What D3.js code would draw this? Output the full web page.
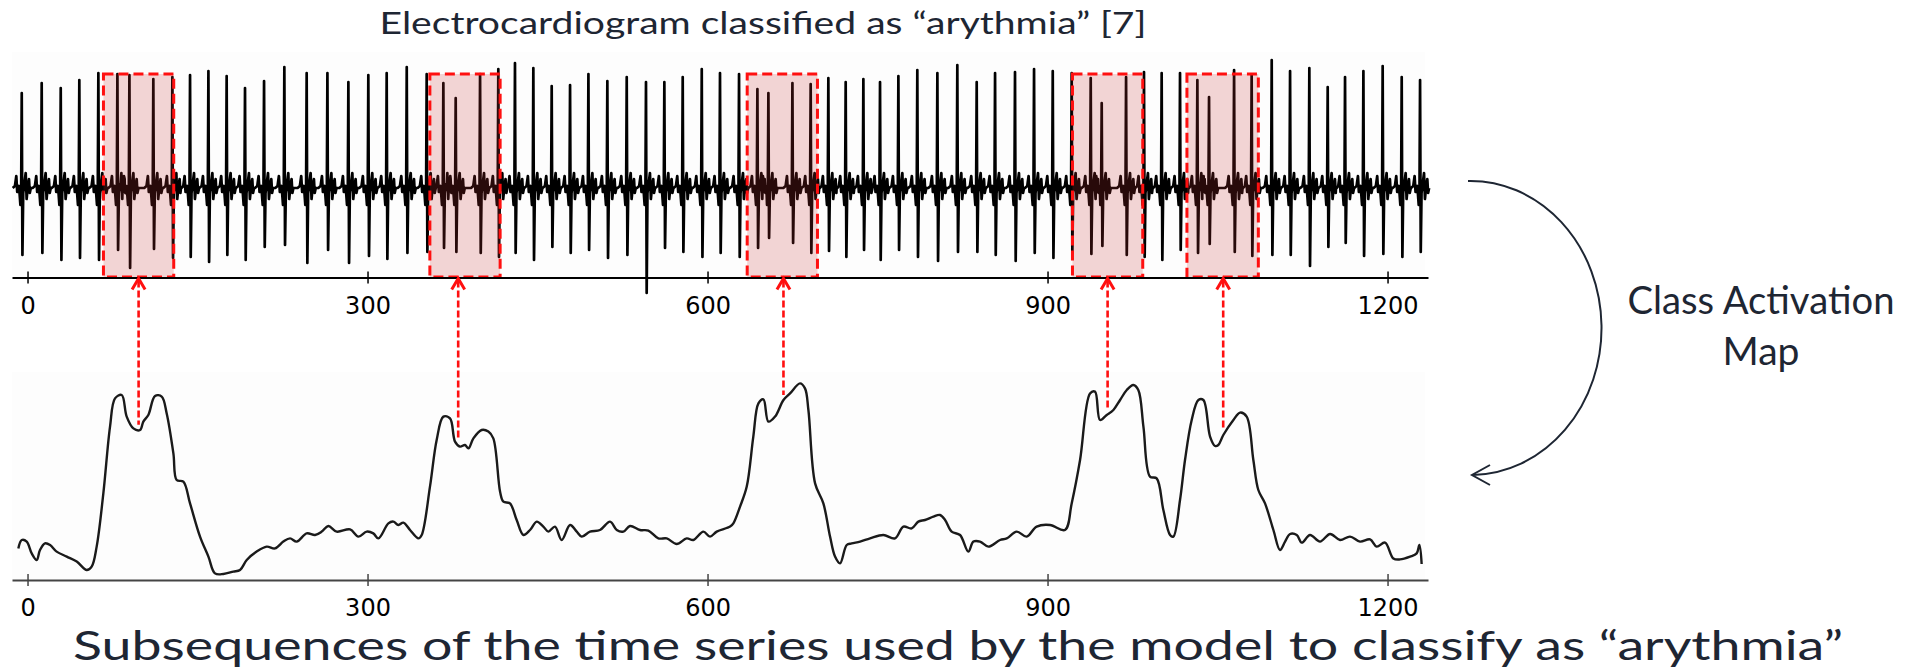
<!DOCTYPE html>
<html>
<head>
<meta charset="utf-8">
<script src="https://cdn.jsdelivr.net/npm/d3@7"></script>
<style>
  body { margin: 0; background: #ffffff; }
  svg { display: block; }
</style>
</head>
<body>
<svg id="chart" width="1924" height="668"></svg>
<script>
// ECG beats: time of each QRS complex, R-peak height and S-trough depth
const beatTime = [-5.1,12.5,29.3,45.7,62.5,79.3,89.9,111,127.8,143.4,159.6,175.7,191.9,208.7,226.6,246.3,264.6,283.1,300.7,316.9,334.6,352.2,366.9,377.8,399.3,415.4,
  430.1,446.3,462.5,478.7,494.9,511.6,528.7,545.7,561.9,578.1,594.9,611,627.8,644,653.7,674.9,691,706.6,721.9,737.5,752.2,768.4,785.1,802.8,820.4,837.5,853.7,
  871.3,888.1,904.6,921.3,938.1,947.8,969.3,985.1,1000.7,1016.9,1032.2,1042.5,1064.6,1080.1,1097.8,1114,1131,1147.2,1162.5,1178.7,1195.7,1212.5,1228.7];
const beatPeak = [0.95,1.05,1.0,1.08,1.15,1.14,1.13,1.09,1.11,1.13,1.17,1.12,1.0,1.07,1.21,1.15,1.15,1.06,1.13,1.15,1.21,1.14,1.05,0.9,1.14,1.19,
  1.25,1.2,1.02,1.03,1.14,1.07,1.11,1.06,1.06,1.11,1.19,1.15,1.14,0.99,0.95,1.05,1.04,1.1,1.06,1.09,1.06,1.12,1.18,1.15,1.23,1.06,1.15,
  1.16,1.19,1.17,1.15,1.1,0.85,1.11,1.16,1.15,1.15,1.08,0.91,1.18,1.13,1.28,1.17,1.2,1.01,1.11,1.17,1.22,1.11,1.08];
const beatTrough = [-0.67,-0.65,-0.72,-0.7,-0.72,-0.62,-0.8,-0.61,-0.7,-0.69,-0.74,-0.67,-0.72,-0.59,-0.57,-0.75,-0.62,-0.75,-0.68,-0.71,-0.65,-0.64,-0.6,-0.64,-0.65,-0.69,
  -0.65,-0.72,-0.59,-0.65,-0.62,-0.7,-0.67,-1.05,-0.6,-0.64,-0.69,-0.65,-0.69,-0.6,-0.5,-0.55,-0.65,-0.63,-0.69,-0.62,-0.72,-0.62,-0.69,-0.73,-0.64,-0.64,-0.67,
  -0.73,-0.65,-0.7,-0.65,-0.66,-0.58,-0.67,-0.69,-0.72,-0.62,-0.65,-0.56,-0.64,-0.68,-0.67,-0.67,-0.78,-0.59,-0.55,-0.68,-0.66,-0.69,-0.64];

// P and T wave ripple around each complex: [time offset, amplitude]
const rippleBefore = [[-8,0],[-6,0.02],[-4.8,0.12],[-4,-0.04],[-2.4,0.02],[-1.2,-0.17],[-0.5,0]];
const rippleAfter = [[1.3,-0.05],[2.3,0.04],[3.5,0.15],[4.3,-0.11],[5.4,0.02],[6.4,0.09],[7.1,-0.05],[8,0]];

// Class activation map over the same time axis
const camTime = [-8.1,-5.1,-0.7,3.7,8.1,11,15.4,19.9,25.7,34.6,43.4,52.2,56.6,61,66.9,72.8,77.2,83.1,87.5,93.4,99.3,102.2,106.6,112.5,118.4,122.8,128.7,131.6,137.5,143.4,
  152.2,159.6,165.4,172.8,181.6,187.5,193.4,202.2,211,218.4,225.7,231.6,237.5,246.3,253.7,259.6,265.4,272.8,284.6,291.9,299.3,305.1,309.6,318.4,322.8,327.2,331.6,337.5,344.9,347.8,
  355.1,361,366.9,372.8,377.2,381.6,386,389,393.4,400.7,406.6,411,417,
  419.9,425.7,431.6,437.5,443.4,449.3,455.1,459.6,465.4,471.3,478.7,484.6,489,496.3,505.1,514,519.9,525.7,531.6,540.4,547.8,556.6,564,572.8,581.6,587.5,596.3,602.2,608.1,619.9,
  622.8,628.7,634.6,640.4,644.9,649.3,653.7,659.6,667,672.8,681.6,686,689,694.9,702.2,708.1,712.5,716.9,722.8,727.2,734.6,743.4,755.1,765.4,772.8,780.1,786,791.9,799.3,805.1,
  809.6,815.4,822.8,830.1,834.6,840.4,847.8,858.1,
  864,872.8,881.6,890.4,902.2,915.4,921.3,928.7,937.5,941.9,946.3,952.2,958.1,964,969.9,975.7,980.1,984.6,990.4,996.3,1002.2,1008.1,1011,1016.9,1021.3,1027.2,1033.1,1037.5,1043.4,1047.8,
  1050.7,1055.1,1064,1069.9,1075.7,1081.6,1086,1091.9,1099.3,1105.1,1109.6,1114,1119.9,1124.3,1131.6,1140.4,1149.3,1158.1,1166.9,1175.7,1184.6,1190.4,1197.8,1205.1,1211,1219.9,1225.7,1228.1,1230.1];
const camValue = [0.158,0.2,0.192,0.133,0.1,0.15,0.183,0.175,0.142,0.117,0.092,0.05,0.067,0.167,0.433,0.767,0.908,0.925,0.817,0.758,0.75,0.792,0.825,0.92,0.917,0.833,0.633,0.5,0.492,0.383,
  0.217,0.117,0.033,0.03,0.042,0.05,0.1,0.142,0.167,0.158,0.192,0.208,0.192,0.233,0.225,0.242,0.27,0.242,0.253,0.217,0.242,0.233,0.208,0.283,0.292,0.275,0.287,0.25,0.208,0.225,
  0.467,0.7,0.817,0.808,0.692,0.667,0.675,0.658,0.708,0.75,0.742,0.708,0.44,
  0.392,0.383,0.3,0.225,0.25,0.292,0.267,0.242,0.267,0.2,0.275,0.242,0.217,0.242,0.25,0.292,0.25,0.242,0.27,0.25,0.247,0.208,0.208,0.18,0.208,0.2,0.242,0.217,0.242,0.267,
  0.283,0.367,0.467,0.717,0.883,0.903,0.792,0.817,0.9,0.933,0.983,0.958,0.85,0.483,0.383,0.217,0.117,0.083,0.175,0.183,0.192,0.208,0.225,0.208,0.267,0.258,0.292,0.3,0.317,0.325,
  0.3,0.242,0.225,0.142,0.192,0.192,0.167,0.2,
  0.208,0.242,0.217,0.267,0.275,0.25,0.383,0.6,0.933,0.942,0.8,0.825,0.85,0.9,0.95,0.975,0.95,0.767,0.517,0.508,0.35,0.225,0.217,0.4,0.6,0.8,0.9,0.9,0.717,0.67,
  0.675,0.725,0.8,0.837,0.817,0.6,0.45,0.383,0.25,0.15,0.192,0.23,0.225,0.187,0.225,0.192,0.23,0.2,0.217,0.192,0.203,0.167,0.187,0.108,0.103,0.117,0.133,0.175,0.08];

// Subsequences the model relies on, and where each one sits on the activation map
const windowStart = [67, 355, 635, 922, 1023];
const windowEnd = [129, 417, 697, 984, 1086];
const windowMark = [98, 380, 667, 953, 1055];

const tickValues = [0, 300, 600, 900, 1200];

const titleTop = "Electrocardiogram classified as \u201carythmia\u201d [7]";
const titleBottom = "Subsequences of the time series used by the model to classify as \u201carythmia\u201d";
const sideLabel = ["Class Activation", "Map"];

// ---------------------------------------------------------------------------
const svg = d3.select("#chart");
const ink = "#1e2633";
const red = "#ff1010";

const x = d3.scaleLinear().domain([-13.7, 1235.7]).range([12, 1428]);
const yEcg = d3.scaleLinear().domain([-1, 1]).range([288, 88]);
const yCam = d3.scaleLinear().domain([0, 1]).range([580, 380]);
const ecgAxisY = 277.5;
const camAxisY = 580;

// faint plot backgrounds
svg.append("rect").attr("x", 12).attr("y", 52).attr("width", 1413).attr("height", ecgAxisY - 52).attr("fill", "#fdfdfd");
svg.append("rect").attr("x", 12).attr("y", 372).attr("width", 1413).attr("height", camAxisY - 372).attr("fill", "#fdfdfd");

// build the ECG trace from the beat list
const ecgPoints = [];
beatTime.forEach((t, i) => {
  rippleBefore.forEach(([dt, v]) => ecgPoints.push([t + dt, v]));
  ecgPoints.push([t, beatPeak[i]]);
  ecgPoints.push([t + 0.6, beatTrough[i]]);
  rippleAfter.forEach(([dt, v]) => ecgPoints.push([t + dt, v]));
});
ecgPoints.sort((a, b) => a[0] - b[0]);

const ecgLine = d3.line().x(d => x(d[0])).y(d => yEcg(d[1]));
svg.append("path")
  .datum(ecgPoints)
  .attr("d", ecgLine)
  .attr("fill", "none")
  .attr("stroke", "#000")
  .attr("stroke-width", 2.7)
  .attr("stroke-linejoin", "round");

// highlighted windows over the ECG
const boxTop = yEcg(1.14), boxBottom = yEcg(-0.89);
svg.append("g").selectAll("rect")
  .data(windowStart.map((s, i) => [s, windowEnd[i]]))
  .join("rect")
  .attr("x", d => x(d[0]))
  .attr("y", boxTop)
  .attr("width", d => x(d[1]) - x(d[0]))
  .attr("height", boxBottom - boxTop)
  .attr("fill", "rgba(200,50,50,0.2)")
  .attr("stroke", red)
  .attr("stroke-width", 3)
  .attr("stroke-dasharray", "10,5");

// axes
function drawAxis(y, color, width) {
  const g = svg.append("g").attr("transform", `translate(0,${y})`);
  g.call(d3.axisBottom(x).tickValues(tickValues).tickFormat(d3.format("d"))
    .tickSizeInner(6).tickSizeOuter(0).tickPadding(0));
  g.select(".domain").attr("stroke", color).attr("stroke-width", width);
  g.selectAll(".tick line").attr("y1", -6).attr("y2", 6).attr("stroke", color).attr("stroke-width", 1.5);
  g.selectAll(".tick text")
    .attr("y", 36).attr("dy", 0)
    .attr("font-family", "DejaVu Sans, sans-serif")
    .attr("font-size", 24)
    .attr("fill", "#000");
  return g;
}
drawAxis(ecgAxisY, "#000", 1.8);
drawAxis(camAxisY, "#444", 2.2);

// activation map curve
const camLine = d3.line()
  .x((d, i) => x(camTime[i]))
  .y(d => yCam(d))
  .curve(d3.curveCatmullRom.alpha(0.5));
svg.append("path")
  .datum(camValue)
  .attr("d", camLine)
  .attr("fill", "none")
  .attr("stroke", "#1a1a1a")
  .attr("stroke-width", 2.4)
  .attr("stroke-linejoin", "round");

// value of the activation map at a given time
const bis = d3.bisector(d => d).left;
function camAt(t) {
  const i = Math.max(1, Math.min(camTime.length - 1, bis(camTime, t)));
  const t0 = camTime[i - 1], t1 = camTime[i];
  const k = (t - t0) / (t1 - t0);
  return camValue[i - 1] + k * (camValue[i] - camValue[i - 1]);
}

// dashed arrows from the activation peaks up to the windows
const arrows = svg.append("g");
windowMark.forEach(t => {
  const xm = x(t);
  const yTip = boxBottom + 0.5;
  const yEnd = yCam(camAt(t)) - 5;
  arrows.append("line")
    .attr("x1", xm).attr("x2", xm)
    .attr("y1", yTip + 3).attr("y2", yEnd)
    .attr("stroke", red).attr("stroke-width", 2.6)
    .attr("stroke-dasharray", "7,3");
  arrows.append("path")
    .attr("d", `M${xm - 6.5},${yTip + 12}L${xm},${yTip + 1}L${xm + 6.5},${yTip + 12}`)
    .attr("fill", "none").attr("stroke", red).attr("stroke-width", 3)
    .attr("stroke-linejoin", "miter");
});

// curved arrow linking the two panels
svg.append("path")
  .attr("d", "M1468,181 A131,147 0 0 1 1473,475")
  .attr("fill", "none").attr("stroke", ink).attr("stroke-width", 2);
svg.append("path")
  .attr("d", "M1490,465 L1472,475 L1490,485")
  .attr("fill", "none").attr("stroke", ink).attr("stroke-width", 2);

// titles
svg.append("text")
  .attr("x", 763).attr("y", 34)
  .attr("text-anchor", "middle")
  .attr("font-family", "Lato, 'Open Sans', sans-serif")
  .attr("font-size", 30)
  .attr("fill", ink)
  .attr("textLength", 767).attr("lengthAdjust", "spacingAndGlyphs")
  .text(titleTop);

svg.append("text")
  .attr("x", 958).attr("y", 660)
  .attr("text-anchor", "middle")
  .attr("font-family", "Lato, 'Open Sans', sans-serif")
  .attr("font-size", 41)
  .attr("fill", ink)
  .attr("textLength", 1770).attr("lengthAdjust", "spacingAndGlyphs")
  .text(titleBottom);

const side = svg.append("g")
  .attr("font-family", "Lato, 'Open Sans', sans-serif")
  .attr("font-size", 38)
  .attr("fill", ink)
  .attr("text-anchor", "middle");
side.append("text").attr("x", 1761).attr("y", 314)
  .attr("textLength", 267).attr("lengthAdjust", "spacingAndGlyphs").text(sideLabel[0]);
side.append("text").attr("x", 1761).attr("y", 365)
  .attr("textLength", 77).attr("lengthAdjust", "spacingAndGlyphs").text(sideLabel[1]);
</script>
</body>
</html>
